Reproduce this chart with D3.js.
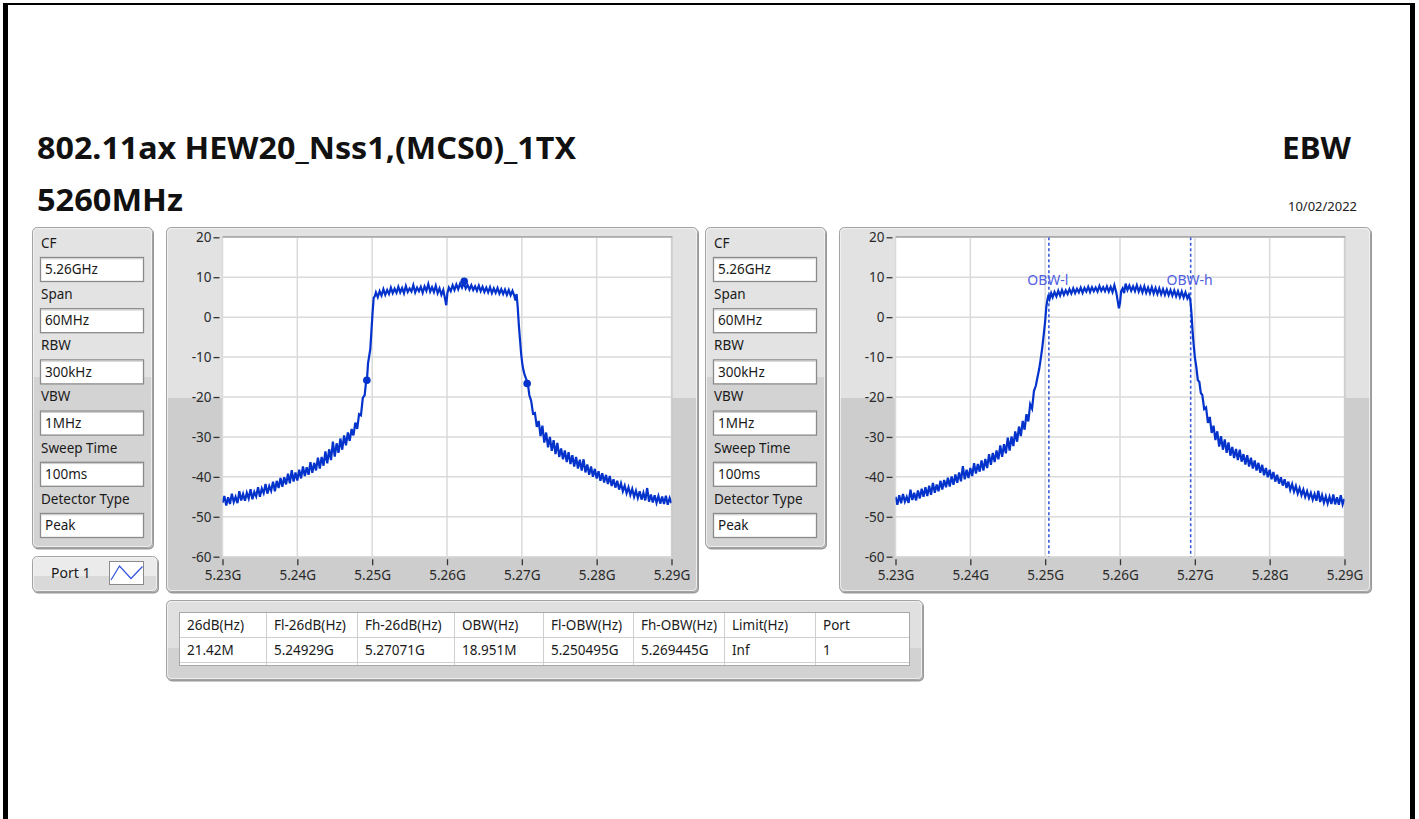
<!DOCTYPE html>
<html><head><meta charset="utf-8">
<script src="https://cdn.jsdelivr.net/npm/d3@7"></script>
<style>html,body{margin:0;padding:0;background:#fff;}svg{display:block;}text{font-family:"Noto Sans",sans-serif;}</style>
</head><body><svg id="c" width="1419" height="819"></svg>
<script>
// ---------------- data ----------------
const titleMain = "802.11ax HEW20_Nss1,(MCS0)_1TX";
const titleSub = "5260MHz";
const testName = "EBW";
const testDate = "10/02/2022";
const paramLabels = ["CF","Span","RBW","VBW","Sweep Time","Detector Type"];
const paramValues = ["5.26GHz","60MHz","300kHz","1MHz","100ms","Peak"];
const freqTicksMHz = [5230,5240,5250,5260,5270,5280,5290];
const levelTicksDb = [20,10,0,-10,-20,-30,-40,-50,-60];
const legendName = "Port 1";
const tableHeaders = ["26dB(Hz)","Fl-26dB(Hz)","Fh-26dB(Hz)","OBW(Hz)","Fl-OBW(Hz)","Fh-OBW(Hz)","Limit(Hz)","Port"];
const tableValues = ["21.42M","5.24929G","5.27071G","18.951M","5.250495G","5.269445G","Inf","1"];
const peakMarkers = [[5262.3,9.0],[5249.29,-15.8],[5270.71,-16.6]];
const obwMarkers = [{label:"OBW-l",f:5250.495},{label:"OBW-h",f:5269.445}];

// trace of the 26 dB bandwidth plot: [frequency MHz, level dBm]
const leftTrace = [
[5230.00,-46.5],[5230.25,-44.8],[5230.50,-47.2],[5230.75,-45.1],[5231.00,-46.8],[5231.25,-44.2],[5231.50,-46.3],[5231.75,-45.0],
[5232.00,-46.6],[5232.25,-43.6],[5232.50,-45.9],[5232.75,-44.3],[5233.00,-46.0],[5233.25,-44.0],[5233.50,-45.4],[5233.75,-43.1],
[5234.00,-45.6],[5234.25,-43.8],[5234.50,-44.9],[5234.75,-42.6],[5235.00,-45.0],[5235.25,-42.9],[5235.50,-44.1],[5235.75,-41.8],
[5236.00,-44.2],[5236.25,-42.3],[5236.50,-43.5],[5236.75,-41.2],[5237.00,-43.6],[5237.25,-41.0],[5237.50,-42.8],[5237.75,-40.3],
[5238.00,-42.5],[5238.25,-40.1],[5238.50,-41.9],[5238.75,-39.2],[5239.00,-41.6],[5239.25,-38.3],[5239.50,-41.2],[5239.75,-38.9],
[5240.00,-40.9],[5240.25,-38.2],[5240.50,-40.4],[5240.75,-37.4],[5241.00,-39.8],[5241.25,-37.6],[5241.50,-39.5],[5241.75,-36.3],
[5242.00,-39.0],[5242.25,-36.5],[5242.50,-38.4],[5242.75,-35.2],[5243.00,-37.9],[5243.25,-35.0],[5243.50,-37.2],[5243.75,-33.6],
[5244.00,-36.6],[5244.25,-33.1],[5244.50,-35.8],[5244.75,-31.2],[5245.00,-34.9],[5245.25,-31.6],[5245.50,-34.0],[5245.75,-30.4],
[5246.00,-33.2],[5246.25,-29.6],[5246.50,-32.1],[5246.75,-28.9],[5247.00,-31.0],[5247.25,-28.0],[5247.50,-29.6],[5247.75,-26.4],
[5248.00,-28.0],[5248.25,-24.3],[5248.50,-24.6],[5248.75,-20.2],[5249.00,-19.5],[5249.15,-16.8],[5249.30,-15.8],[5249.45,-11.5],
[5249.60,-9.8],[5249.75,-8.0],[5249.90,-3.5],[5250.05,1.0],[5250.20,4.8],[5250.35,5.2],
[5250.50,6.2],[5250.75,5.0],[5251.00,6.5],[5251.25,5.4],[5251.50,7.0],[5251.75,5.6],[5252.00,6.8],[5252.25,5.8],
[5252.50,7.4],[5252.75,6.0],[5253.00,7.1],[5253.25,6.1],[5253.50,7.6],[5253.75,6.2],[5254.00,7.3],[5254.25,6.0],
[5254.50,7.8],[5254.75,6.3],[5255.00,7.2],[5255.25,6.4],[5255.50,8.0],[5255.75,6.2],[5256.00,7.4],[5256.25,6.5],
[5256.50,7.6],[5256.75,6.1],[5257.00,7.7],[5257.25,6.6],[5257.50,8.3],[5257.75,6.4],[5258.00,7.5],[5258.25,6.3],
[5258.50,7.9],[5258.75,6.0],[5259.00,7.2],[5259.25,5.6],[5259.50,6.8],[5259.75,4.5],[5259.90,3.0],[5260.05,6.0],
[5260.25,7.4],[5260.50,6.5],[5260.75,8.0],[5261.00,6.8],[5261.25,8.2],[5261.50,7.0],[5261.75,8.4],[5262.00,7.4],
[5262.25,8.6],[5262.50,7.2],[5262.75,8.1],[5263.00,6.9],[5263.25,8.0],[5263.50,6.8],[5263.75,7.7],[5264.00,6.6],
[5264.25,7.9],[5264.50,6.5],[5264.75,7.6],[5265.00,6.3],[5265.25,7.4],[5265.50,6.2],[5265.75,7.5],[5266.00,6.0],
[5266.25,7.2],[5266.50,6.1],[5266.75,7.3],[5267.00,5.9],[5267.25,7.0],[5267.50,5.8],[5267.75,6.9],[5268.00,5.6],
[5268.25,6.8],[5268.50,5.5],[5268.75,6.6],[5269.00,5.3],[5269.15,4.2],[5269.30,5.8],[5269.45,2.5],[5269.60,-2.0],
[5269.75,-5.5],[5269.90,-9.0],[5270.05,-11.5],[5270.20,-13.2],[5270.40,-14.6],[5270.60,-15.6],[5270.80,-16.6],[5271.00,-19.5],
[5271.25,-21.0],[5271.50,-24.2],[5271.75,-24.0],[5272.00,-27.5],[5272.25,-26.0],[5272.50,-29.8],[5272.75,-27.2],[5273.00,-31.4],
[5273.25,-28.9],[5273.50,-32.6],[5273.75,-30.0],[5274.00,-33.5],[5274.25,-30.8],[5274.50,-34.3],[5274.75,-31.5],[5275.00,-35.0],
[5275.25,-32.9],[5275.50,-35.6],[5275.75,-33.4],[5276.00,-36.3],[5276.25,-33.8],[5276.50,-36.8],[5276.75,-34.6],[5277.00,-37.4],
[5277.25,-35.0],[5277.50,-37.9],[5277.75,-35.7],[5278.00,-38.4],[5278.25,-35.6],[5278.50,-38.9],[5278.75,-36.9],[5279.00,-39.5],
[5279.25,-37.4],[5279.50,-40.0],[5279.75,-38.0],[5280.00,-40.4],[5280.25,-38.6],[5280.50,-41.0],[5280.75,-39.1],[5281.00,-41.4],
[5281.25,-39.5],[5281.50,-41.8],[5281.75,-39.8],[5282.00,-42.3],[5282.25,-40.6],[5282.50,-42.7],[5282.75,-41.0],[5283.00,-43.2],
[5283.25,-41.6],[5283.50,-43.6],[5283.75,-42.2],[5284.00,-44.1],[5284.25,-42.6],[5284.50,-44.5],[5284.75,-43.0],[5285.00,-45.0],
[5285.25,-43.5],[5285.50,-45.3],[5285.75,-43.6],[5286.00,-45.7],[5286.25,-44.0],[5286.50,-45.9],[5286.75,-42.8],[5287.00,-46.2],
[5287.25,-44.4],[5287.50,-46.4],[5287.75,-44.6],[5288.00,-46.5],[5288.25,-44.8],[5288.50,-46.7],[5288.75,-44.9],[5289.00,-46.8],
[5289.25,-44.7],[5289.50,-47.0],[5289.75,-45.3],[5290.00,-46.6]
];

// trace of the occupied bandwidth plot: [frequency MHz, level dBm]
const rightTrace = [
[5230.00,-45.0],[5230.25,-47.0],[5230.50,-44.6],[5230.75,-46.6],[5231.00,-44.3],[5231.25,-46.2],[5231.50,-45.0],[5231.75,-46.5],
[5232.00,-43.2],[5232.25,-45.8],[5232.50,-44.0],[5232.75,-45.9],[5233.00,-43.4],[5233.25,-45.4],[5233.50,-43.0],[5233.75,-45.0],
[5234.00,-42.6],[5234.25,-44.8],[5234.50,-42.2],[5234.75,-44.5],[5235.00,-41.5],[5235.25,-44.0],[5235.50,-41.9],[5235.75,-43.6],
[5236.00,-41.0],[5236.25,-43.2],[5236.50,-40.8],[5236.75,-42.6],[5237.00,-40.2],[5237.25,-42.4],[5237.50,-39.9],[5237.75,-42.0],
[5238.00,-39.4],[5238.25,-41.5],[5238.50,-38.9],[5238.75,-41.1],[5239.00,-37.3],[5239.25,-40.6],[5239.50,-38.2],[5239.75,-40.3],
[5240.00,-37.8],[5240.25,-39.8],[5240.50,-36.6],[5240.75,-39.2],[5241.00,-36.8],[5241.25,-38.7],[5241.50,-35.9],[5241.75,-38.4],
[5242.00,-35.5],[5242.25,-37.8],[5242.50,-34.3],[5242.75,-37.0],[5243.00,-34.0],[5243.25,-36.3],[5243.50,-33.4],[5243.75,-35.6],
[5244.00,-32.1],[5244.25,-35.0],[5244.50,-31.8],[5244.75,-34.1],[5245.00,-30.2],[5245.25,-33.4],[5245.50,-29.9],[5245.75,-32.3],
[5246.00,-28.6],[5246.25,-31.2],[5246.50,-27.4],[5246.75,-29.8],[5247.00,-26.0],[5247.25,-28.2],[5247.50,-24.3],[5247.75,-26.1],
[5248.00,-21.8],[5248.25,-22.9],[5248.50,-18.5],[5248.75,-17.2],[5249.00,-14.8],[5249.20,-13.0],[5249.40,-10.5],[5249.60,-7.8],
[5249.80,-4.5],[5250.00,-1.0],[5250.15,2.5],[5250.30,4.4],[5250.45,5.6],
[5250.60,4.6],[5250.80,6.0],[5251.00,5.0],[5251.25,6.3],[5251.50,5.2],[5251.75,6.6],[5252.00,5.4],[5252.25,6.8],
[5252.50,5.6],[5252.75,6.7],[5253.00,5.8],[5253.25,7.0],[5253.50,5.9],[5253.75,7.2],[5254.00,6.0],[5254.25,7.1],
[5254.50,6.2],[5254.75,7.4],[5255.00,6.1],[5255.25,7.3],[5255.50,6.4],[5255.75,7.6],[5256.00,6.3],[5256.25,7.5],
[5256.50,6.5],[5256.75,7.4],[5257.00,6.4],[5257.25,7.8],[5257.50,6.6],[5257.75,7.5],[5258.00,6.5],[5258.25,7.7],
[5258.50,6.4],[5258.75,7.6],[5259.00,6.3],[5259.25,8.0],[5259.50,6.2],[5259.70,4.0],[5259.85,2.2],[5260.00,3.5],
[5260.15,6.5],[5260.35,7.2],[5260.55,6.0],[5260.75,8.4],[5261.00,6.8],[5261.25,7.9],[5261.50,6.6],[5261.75,7.7],
[5262.00,6.5],[5262.25,8.0],[5262.50,6.4],[5262.75,7.6],[5263.00,6.2],[5263.25,7.7],[5263.50,6.1],[5263.75,7.4],
[5264.00,6.0],[5264.25,7.5],[5264.50,5.9],[5264.75,7.3],[5265.00,5.8],[5265.25,7.2],[5265.50,5.7],[5265.75,7.0],
[5266.00,5.6],[5266.25,6.9],[5266.50,5.5],[5266.75,6.8],[5267.00,5.4],[5267.25,6.7],[5267.50,5.2],[5267.75,6.5],
[5268.00,5.0],[5268.25,6.4],[5268.50,4.9],[5268.75,6.2],[5269.00,4.7],[5269.20,5.6],[5269.40,4.2],[5269.55,1.0],
[5269.70,-3.5],[5269.85,-7.0],[5270.00,-10.0],[5270.20,-12.5],[5270.40,-15.8],[5270.60,-16.2],[5270.80,-19.0],[5271.00,-19.5],
[5271.25,-23.0],[5271.50,-22.6],[5271.75,-26.5],[5272.00,-25.0],[5272.25,-29.0],[5272.50,-27.2],[5272.75,-30.8],[5273.00,-28.6],
[5273.25,-32.4],[5273.50,-29.8],[5273.75,-33.2],[5274.00,-30.6],[5274.25,-34.0],[5274.50,-31.4],[5274.75,-34.7],[5275.00,-32.5],
[5275.25,-35.3],[5275.50,-33.0],[5275.75,-35.8],[5276.00,-33.2],[5276.25,-36.2],[5276.50,-34.3],[5276.75,-36.9],[5277.00,-34.6],
[5277.25,-37.4],[5277.50,-35.2],[5277.75,-37.9],[5278.00,-35.9],[5278.25,-38.4],[5278.50,-36.5],[5278.75,-39.0],[5279.00,-37.0],
[5279.25,-39.6],[5279.50,-37.8],[5279.75,-40.1],[5280.00,-38.2],[5280.25,-40.6],[5280.50,-38.8],[5280.75,-41.2],[5281.00,-39.5],
[5281.25,-41.7],[5281.50,-40.1],[5281.75,-42.2],[5282.00,-40.6],[5282.25,-42.8],[5282.50,-41.2],[5282.75,-43.3],[5283.00,-41.8],
[5283.25,-43.7],[5283.50,-42.3],[5283.75,-44.2],[5284.00,-42.8],[5284.25,-44.6],[5284.50,-43.2],[5284.75,-45.0],[5285.00,-43.6],
[5285.25,-45.3],[5285.50,-44.0],[5285.75,-45.7],[5286.00,-44.3],[5286.25,-46.0],[5286.50,-43.5],[5286.75,-46.3],[5287.00,-44.6],
[5287.25,-46.5],[5287.50,-44.9],[5287.75,-46.7],[5288.00,-45.0],[5288.25,-46.8],[5288.50,-44.4],[5288.75,-46.9],[5289.00,-45.1],
[5289.25,-47.0],[5289.50,-44.6],[5289.75,-46.9],[5290.00,-45.5]
];

// ---------------- drawing ----------------
const svg = d3.select("#c");
svg.append("rect").attr("width",1419).attr("height",819).attr("fill","#fff");
const defs = svg.append("defs");
let clipN = 0;
const TRACE = "#0433cc";
const TXT = "#1a1a1a";

// outer frame
svg.append("rect").attr("x",3).attr("y",3).attr("width",5).attr("height",816).attr("fill","#000");
svg.append("rect").attr("x",3).attr("y",3).attr("width",1412).attr("height",2).attr("fill","#000");
svg.append("rect").attr("x",1410).attr("y",3).attr("width",5).attr("height",816).attr("fill","#000");

function panel(x, y, w, h, splitY, top, bottom) {
  const id = "pc" + (clipN++);
  defs.append("clipPath").attr("id", id).append("rect")
    .attr("x", x).attr("y", y).attr("width", w).attr("height", h).attr("rx", 5);
  const g = svg.append("g");
  g.append("rect").attr("x", x+1).attr("y", y+1.5).attr("width", w).attr("height", h)
    .attr("rx", 5).attr("fill", "#9a9a9a");
  g.append("rect").attr("x", x).attr("y", y).attr("width", w).attr("height", h)
    .attr("fill", top).attr("clip-path", `url(#${id})`);
  g.append("rect").attr("x", x).attr("y", splitY).attr("width", w).attr("height", y + h - splitY)
    .attr("fill", bottom).attr("clip-path", `url(#${id})`);
  g.append("rect").attr("x", x+0.5).attr("y", y+0.5).attr("width", w-1).attr("height", h-1)
    .attr("rx", 5).attr("fill", "none").attr("stroke", "#a2a2a2");
  g.append("rect").attr("x", x+1.5).attr("y", y+1.5).attr("width", w-3).attr("height", h-3)
    .attr("rx", 4).attr("fill", "none").attr("stroke", "#f4f4f4").attr("stroke-opacity", 0.8);
  return g;
}

// titles
svg.append("text").attr("x",37).attr("y",159).attr("font-size",30).attr("font-weight","bold")
  .attr("fill","#111").attr("textLength",539).attr("lengthAdjust","spacingAndGlyphs").text(titleMain);
svg.append("text").attr("x",37).attr("y",211).attr("font-size",30).attr("font-weight","bold")
  .attr("fill","#111").attr("textLength",146).attr("lengthAdjust","spacingAndGlyphs").text(titleSub);
svg.append("text").attr("x",1282).attr("y",159).attr("font-size",30).attr("font-weight","bold")
  .attr("fill","#111").attr("textLength",69).attr("lengthAdjust","spacingAndGlyphs").text(testName);
svg.append("text").attr("x",1288).attr("y",211).attr("font-size",12).attr("fill","#222")
  .attr("textLength",69).attr("lengthAdjust","spacingAndGlyphs").text(testDate);

// parameter panels
function drawParams(px) {
  panel(px, 227, 121, 321, 377, "#e3e3e3", "#d3d3d3");
  const g = svg.append("g");
  paramLabels.forEach((lab, i) => {
    const top = 257 + i * 51.2;
    g.append("text").attr("x", px + 9).attr("y", top - 14).attr("dy", "0.35em")
      .attr("font-size", 13.5).attr("fill", TXT).text(lab);
    g.append("rect").attr("x", px + 8.5).attr("y", top + 0.5).attr("width", 103).attr("height", 24)
      .attr("fill", "#fff").attr("stroke", "#8a8a8a").attr("stroke-width", 1.3);
    g.append("line").attr("x1", px + 9.5).attr("x2", px + 110.5).attr("y1", top + 1.8).attr("y2", top + 1.8)
      .attr("stroke", "#c8c8c8");
    g.append("text").attr("x", px + 13).attr("y", top + 12.5).attr("dy", "0.35em")
      .attr("font-size", 13.5).attr("fill", TXT).text(paramValues[i]);
  });
}
drawParams(32);
drawParams(705);

// legend box
panel(32, 556, 126, 36, 576, "#ebebeb", "#d9d9d9");
svg.append("text").attr("x", 51).attr("y", 573).attr("dy", "0.35em").attr("font-size", 14)
  .attr("fill", TXT).text(legendName);
svg.append("rect").attr("x", 109.5).attr("y", 561.5).attr("width", 34).attr("height", 23)
  .attr("fill", "#fff").attr("stroke", "#8a8a8a");
svg.append("path").attr("d", "M111,580L119.5,566L131,578.5L142.5,566.5").attr("fill", "none")
  .attr("stroke", "#3355dd").attr("stroke-width", 1.2);

// spectrum charts
function drawChart(px, trace, dots, obw) {
  panel(px, 227, 532, 365, 398, "#e2e2e2", "#cdcdcd");
  const x0 = px + 56.5, x1 = px + 505.5, yTop = 237.3, yBot = 556.7;
  const x = d3.scaleLinear().domain([5230, 5290]).range([x0, x1]);
  const y = d3.scaleLinear().domain([-60, 20]).range([yBot, yTop]);
  const g = svg.append("g");
  g.append("rect").attr("x", x0).attr("y", yTop).attr("width", x1 - x0).attr("height", yBot - yTop).attr("fill", "#fff");
  g.selectAll(".vg").data(freqTicksMHz).join("line")
    .attr("x1", d => x(d)).attr("x2", d => x(d)).attr("y1", yTop).attr("y2", yBot)
    .attr("stroke", "#dadada").attr("stroke-width", 1.5);
  g.selectAll(".hg").data(levelTicksDb).join("line")
    .attr("x1", x0).attr("x2", x1).attr("y1", d => y(d)).attr("y2", d => y(d))
    .attr("stroke", "#dadada").attr("stroke-width", 1.5);
  g.append("line").attr("x1", x0).attr("x2", x1 + 1).attr("y1", yTop - 0.5).attr("y2", yTop - 0.5)
    .attr("stroke", "#9a9a9a").attr("stroke-width", 1.2);
  g.append("line").attr("x1", x1 + 0.5).attr("x2", x1 + 0.5).attr("y1", yTop).attr("y2", yBot)
    .attr("stroke", "#c4c4c4");

  const id = "plot" + (clipN++);
  defs.append("clipPath").attr("id", id).append("rect")
    .attr("x", x0).attr("y", yTop).attr("width", x1 - x0).attr("height", yBot - yTop);
  const pg = g.append("g").attr("clip-path", `url(#${id})`);

  if (obw) {
    pg.selectAll(".obw").data(obw).join("line")
      .attr("x1", d => x(d.f)).attr("x2", d => x(d.f)).attr("y1", yTop).attr("y2", yBot)
      .attr("stroke", "#3a5ad8").attr("stroke-width", 1.6).attr("stroke-dasharray", "3,2.5");
  }
  const line = d3.line().x(d => x(d[0])).y(d => y(d[1]));
  pg.append("path").datum(trace).attr("d", line).attr("fill", "none")
    .attr("stroke", TRACE).attr("stroke-width", 2.2).attr("stroke-linejoin", "miter");
  if (dots) {
    pg.selectAll(".dot").data(dots).join("circle")
      .attr("cx", d => x(d[0])).attr("cy", d => y(d[1])).attr("r", 3.8).attr("fill", TRACE);
  }
  if (obw) {
    g.selectAll(".obwl").data(obw).join("text")
      .attr("x", d => x(d.f) - 1).attr("y", 285).attr("text-anchor", "middle")
      .attr("font-size", 14).attr("fill", "#5060e0").text(d => d.label);
  }

  const ya = g.append("g").attr("transform", `translate(${x0 - 3},0)`)
    .call(d3.axisLeft(y).tickValues(levelTicksDb).tickSize(6).tickPadding(2).tickFormat(d => String(d)));
  const xa = g.append("g").attr("transform", `translate(0,${yBot + 2.5})`)
    .call(d3.axisBottom(x).tickValues(freqTicksMHz).tickSize(6).tickPadding(5)
      .tickFormat(d => (d / 1000).toFixed(2) + "G"));
  [ya, xa].forEach(a => {
    a.select(".domain").remove();
    a.selectAll("line").attr("stroke", "#333").attr("stroke-width", 1.3);
    a.selectAll("text").attr("font-size", 13.5).attr("fill", "#2a2a2a")
      .attr("font-family", '"Noto Sans",sans-serif');
  });
}
drawChart(166, leftTrace, peakMarkers, null);
drawChart(839, rightTrace, null, obwMarkers);

// results table
panel(166, 600, 757, 80, 648, "#e0e0e0", "#d2d2d2");
const colX = [179, 266, 357, 454, 543, 633, 724, 815, 910];
const tg = svg.append("g");
tg.append("rect").attr("x", 179.5).attr("y", 612.5).attr("width", 730).attr("height", 53)
  .attr("fill", "#fff").attr("stroke", "#a8a8a8");
[637.5, 662.5].forEach(yy => tg.append("line").attr("x1", 180).attr("x2", 909).attr("y1", yy).attr("y2", yy)
  .attr("stroke", "#cfcfcf"));
tg.selectAll(".cs").data(colX.slice(1, -1)).join("line")
  .attr("x1", d => d + 0.5).attr("x2", d => d + 0.5).attr("y1", 613).attr("y2", 665)
  .attr("stroke", "#cfcfcf");
tg.selectAll(".th").data(tableHeaders).join("text")
  .attr("x", (d, i) => colX[i] + 8).attr("y", 625).attr("dy", "0.35em")
  .attr("font-size", 13.5).attr("fill", TXT).text(d => d);
tg.selectAll(".td").data(tableValues).join("text")
  .attr("x", (d, i) => colX[i] + 8).attr("y", 650).attr("dy", "0.35em")
  .attr("font-size", 13.5).attr("fill", TXT).text(d => d);
</script></body></html>
